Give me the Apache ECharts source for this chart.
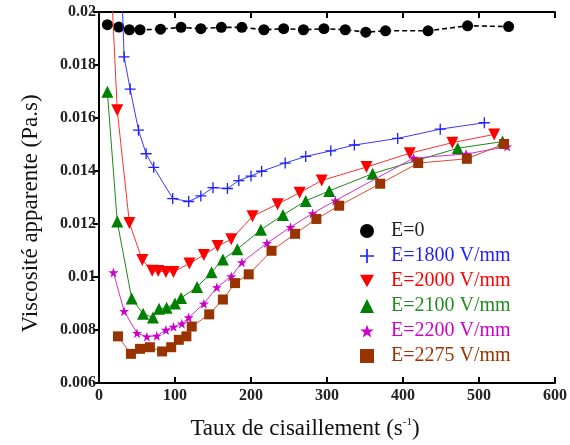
<!DOCTYPE html>
<html>
<head>
<meta charset="utf-8">
<script src="https://cdn.jsdelivr.net/npm/echarts@6/dist/echarts.min.js"></script>
<style>html,body{margin:0;padding:0;background:#fff}#c{width:570px;height:445px}</style>
</head>
<body>
<div id="c"></div>
<script>
// ---- data ----
var seriesNames = ['E=0', 'E=1800 V/mm', 'E=2000 V/mm', 'E=2100 V/mm', 'E=2200 V/mm', 'E=2275 V/mm'];
var xTicks = [0, 100, 200, 300, 400, 500, 600];
var yTicks = [0.006, 0.008, 0.01, 0.012, 0.014, 0.016, 0.018, 0.02];

var x0 = [11, 26, 40, 54, 81, 108, 134, 161, 188, 217, 243, 269, 296, 324, 351, 377, 433, 485, 539];
var y0 = [0.01952, 0.01943, 0.01933, 0.01933, 0.01935, 0.01942, 0.01937, 0.01942, 0.01942, 0.01933, 0.01937, 0.01933, 0.01937, 0.01933, 0.01924, 0.01929, 0.01929, 0.01948, 0.01945];

var x1800 = [27, 33, 41, 52, 62, 72, 97, 118, 134, 150, 169, 184, 200, 214, 245, 272, 305, 336, 393, 449, 507];
var y1800 = [0.0235, 0.01831, 0.01709, 0.01554, 0.01465, 0.01414, 0.01296, 0.01285, 0.01306, 0.01337, 0.01334, 0.01364, 0.01381, 0.01399, 0.0143, 0.01455, 0.01476, 0.01498, 0.01523, 0.01558, 0.01582];

var x2000 = [12, 24, 40, 57, 70, 78, 88, 98, 119, 138, 156, 174, 202, 235, 264, 293, 352, 409, 465, 520];
var y2000 = [0.0236, 0.01629, 0.01204, 0.01064, 0.01024, 0.01023, 0.01019, 0.01019, 0.01051, 0.01083, 0.01117, 0.01142, 0.01229, 0.01275, 0.01318, 0.01364, 0.01415, 0.01467, 0.01507, 0.01538];

var x2100 = [11, 24, 43, 58, 71, 79, 89, 100, 108, 129, 148, 163, 182, 213, 242, 272, 303, 360, 472, 531];
var y2100 = [0.01699, 0.01209, 0.00919, 0.00861, 0.00847, 0.0088, 0.00884, 0.009, 0.00921, 0.00962, 0.01018, 0.01066, 0.01105, 0.01178, 0.01234, 0.01287, 0.01325, 0.0139, 0.01486, 0.01511];

var x2200 = [19, 33, 50, 63, 76, 88, 98, 109, 118, 138, 155, 174, 188, 221, 252, 281, 311, 414, 483, 537];
var y2200 = [0.01017, 0.00871, 0.00788, 0.00775, 0.00778, 0.008, 0.00812, 0.00824, 0.00847, 0.00899, 0.00961, 0.01002, 0.01055, 0.01128, 0.01188, 0.0124, 0.01288, 0.01449, 0.01464, 0.01492];

var x2275 = [25, 42, 54, 67, 83, 95, 105, 115, 122, 145, 163, 179, 197, 227, 258, 286, 316, 370, 420, 484, 533];
var y2275 = [0.00776, 0.0071, 0.00729, 0.00735, 0.00719, 0.00735, 0.00763, 0.00776, 0.00813, 0.00859, 0.00915, 0.00977, 0.0101, 0.01099, 0.01163, 0.01219, 0.01269, 0.01352, 0.0143, 0.01446, 0.01502];

// ---- build ----
function pairs(xs, ys) { return xs.map(function (x, i) { return [x, ys[i]]; }); }
var FONT = '"Liberation Serif", "Times New Roman", serif';
var PLUS = 'path://M4.4,0H5.6V4.4H10V5.6H5.6V10H4.4V5.6H0V4.4H4.4Z';
var STAR = 'path://M50,0L61.8,35.3L99,35.3L68.8,57.1L80.3,92.7L50,70.8L19.7,92.7L31.2,57.1L1,35.3L38.2,35.3Z';
var DOWN = 'path://M0,0L10,0L5,9Z';

var sData = [pairs(x0, y0), pairs(x1800, y1800), pairs(x2000, y2000), pairs(x2100, y2100), pairs(x2200, y2200), pairs(x2275, y2275)];
var symColors = ['#000000', '#1f1fff', '#ff0000', '#008000', '#cc00cc', '#993300'];
var lineColors = ['#000000', '#3a3aff', '#ff3030', '#1a8a1a', '#cc33cc', '#e04a30'];
var textColors = ['#222222', '#1f1fff', '#ff0000', '#228b22', '#cc00cc', '#993300'];
var symbols = ['circle', PLUS, DOWN, 'triangle', STAR, 'rect'];
var symSizes = [11, 11, 12, 12, 10, 10];

var series = seriesNames.map(function (n, i) {
  return {
    name: n, type: 'line', data: sData[i], xAxisIndex: 0, yAxisIndex: 0,
    symbol: symbols[i], symbolSize: symSizes[i], showAllSymbol: true, clip: true,
    lineStyle: { color: lineColors[i], width: i === 0 ? 1.6 : 1, type: i === 0 ? [5, 3] : 'solid' },
    itemStyle: { color: symColors[i] },
    z: 2 + i
  };
});

var chart = echarts.init(document.getElementById('c'));
var axisLine = { show: true, lineStyle: { color: '#000', width: 2 } };
chart.setOption({
  animation: false,
  backgroundColor: '#fff',
  grid: { left: 99, right: 12, top: 12, bottom: 57 },
  xAxis: [{
    type: 'value', min: xTicks[0], max: xTicks[xTicks.length - 1], interval: 100,
    axisLine: axisLine, splitLine: { show: false },
    axisTick: { show: true, inside: true, length: 6, lineStyle: { color: '#000', width: 2 } },
    axisLabel: { color: '#222', fontFamily: FONT, fontSize: 16, fontWeight: 'bold', margin: 5 },
    name: 'Taux de cisaillement (s{sup|-1})', nameLocation: 'middle', nameGap: 34,
    nameTextStyle: { color: '#111', fontFamily: FONT, fontSize: 23, padding: [0, 44, 0, 0],
      rich: { sup: { fontFamily: FONT, fontSize: 11, verticalAlign: 'top', padding: [0, 0, 12, 0], color: '#111' } } }
  }, {
    type: 'value', position: 'top', min: xTicks[0], max: xTicks[xTicks.length - 1], interval: 100,
    axisLine: axisLine, splitLine: { show: false },
    axisTick: { show: true, inside: true, length: 6, lineStyle: { color: '#000', width: 2 } },
    axisLabel: { show: false }
  }],
  yAxis: [{
    type: 'value', min: yTicks[0], max: yTicks[yTicks.length - 1], interval: 0.002,
    axisLine: axisLine, splitLine: { show: false },
    axisTick: { show: true, inside: false, length: 5, lineStyle: { color: '#000', width: 2 } },
    axisLabel: { color: '#222', fontFamily: FONT, fontSize: 16, fontWeight: 'bold', margin: 3,
      formatter: function (v) { return String(+v.toFixed(3)); } },
    name: 'Viscosité apparente (Pa.s)', nameLocation: 'middle', nameGap: 57,
    nameTextStyle: { color: '#111', fontFamily: FONT, fontSize: 23, padding: [0, 32, 0, 0] }
  }, {
    type: 'value', position: 'right', min: yTicks[0], max: yTicks[yTicks.length - 1], interval: 0.002,
    axisLine: axisLine, splitLine: { show: false },
    axisTick: { show: true, inside: true, length: 6, lineStyle: { color: '#000', width: 2 } },
    axisLabel: { show: false }
  }],
  legend: {
    orient: 'vertical', left: 355, top: 216, itemGap: 5, itemWidth: 14, itemHeight: 14,
    data: seriesNames.map(function (n, i) {
      return { name: n, icon: symbols[i],
        itemStyle: { color: symColors[i] },
        textStyle: { color: textColors[i], fontFamily: FONT, fontSize: 20, padding: [0, 0, 0, 12] } };
    }),
    textStyle: { fontFamily: FONT, fontSize: 20 }
  },
  series: series
});
</script>
</body>
</html>
